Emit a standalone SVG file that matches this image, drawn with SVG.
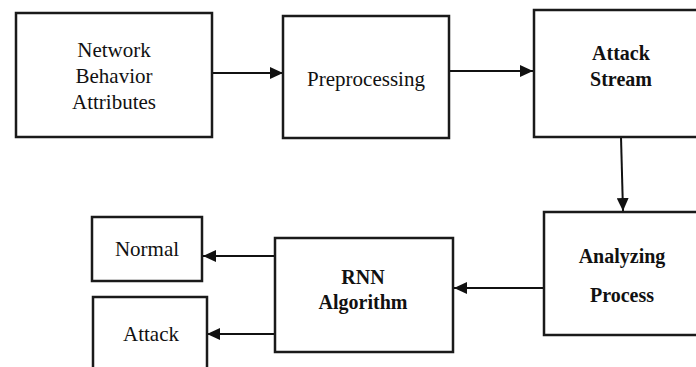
<svg xmlns="http://www.w3.org/2000/svg" width="696" height="367" viewBox="0 0 696 367">
<defs>
<style>
.box{fill:#fff;stroke:#1a1a1a;stroke-width:2.5}
.t{font-family:"Liberation Serif","Times New Roman",serif;font-size:21px;fill:#111;text-anchor:middle}
.b{font-weight:bold;font-size:20px}
.c{stroke:#111;stroke-width:2;fill:none;marker-end:url(#ah)}
</style>
<marker id="ah" markerWidth="13" markerHeight="12" refX="13" refY="6" orient="auto" markerUnits="userSpaceOnUse">
<path d="M0,0 L13,6 L0,12 Z" fill="#111"/>
</marker>
</defs>
<rect width="696" height="367" fill="#fff"/>
<g id="connectors">
<line class="c" x1="212" y1="73" x2="283" y2="73"/>
<line class="c" x1="450" y1="71" x2="533" y2="71"/>
<line class="c" x1="621" y1="137" x2="623" y2="211"/>
<line class="c" x1="544" y1="288" x2="454" y2="288"/>
<line class="c" x1="275" y1="256" x2="203" y2="256"/>
<line class="c" x1="275" y1="334" x2="207" y2="334"/>
</g>
<g id="n-network">
<rect class="box" x="16" y="13" width="196" height="124"/>
<text class="t" x="114" y="57">Network</text>
<text class="t" x="114" y="83">Behavior</text>
<text class="t" x="114" y="109">Attributes</text>
</g>
<g id="n-preprocessing">
<rect class="box" x="283" y="16" width="166" height="122"/>
<text class="t" x="366" y="86">Preprocessing</text>
</g>
<g id="n-attackstream">
<rect class="box" x="534" y="10" width="166" height="127"/>
<text class="t b" x="621" y="60">Attack</text>
<text class="t b" x="621" y="86">Stream</text>
</g>
<g id="n-analyzing">
<rect class="box" x="544" y="212" width="156" height="123"/>
<text class="t b" x="622" y="263">Analyzing</text>
<text class="t b" x="622" y="302">Process</text>
</g>
<g id="n-rnn">
<rect class="box" x="275" y="238" width="178" height="114"/>
<text class="t b" x="363" y="284">RNN</text>
<text class="t b" x="363" y="309">Algorithm</text>
</g>
<g id="n-normal">
<rect class="box" x="92" y="217" width="110" height="64"/>
<text class="t" x="147" y="256">Normal</text>
</g>
<g id="n-attack">
<rect class="box" x="93" y="297" width="114" height="80"/>
<text class="t" x="151" y="341">Attack</text>
</g>
</svg>
